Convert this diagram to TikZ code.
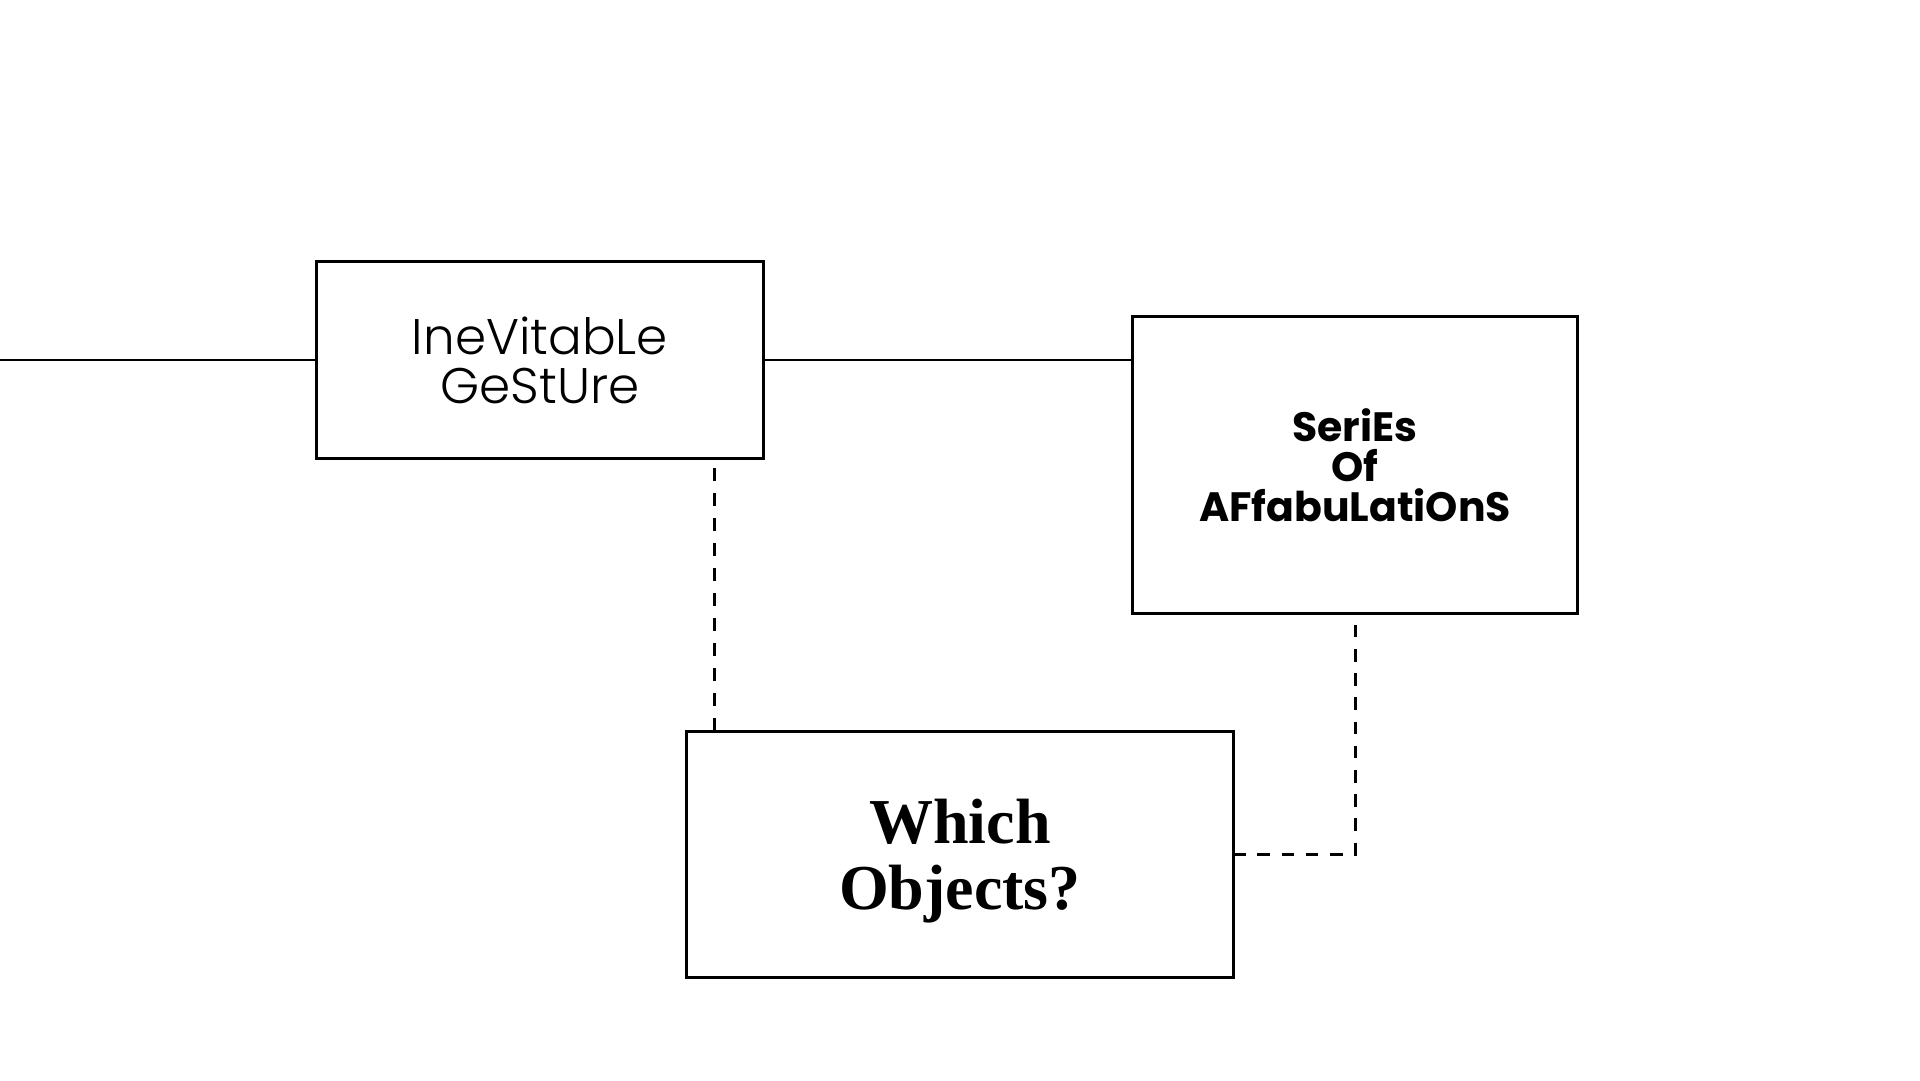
\documentclass[tikz,border=0pt]{standalone}
\usepackage{fontspec}
\IfFontExistsTF{Poppins Light}{\newfontfamily\lightsans{Poppins Light}}{%
  \IfFontExistsTF{Lato Light}{\newfontfamily\lightsans{Lato Light}}{\newfontfamily\lightsans{Liberation Sans}}}
\IfFontExistsTF{Poppins Bold}{\newfontfamily\heavysans{Poppins Bold}}{%
  \newfontfamily\heavysans{Poppins}[UprightFont=*,BoldFont=*]}
\newfontfamily\timesbold{Liberation Serif}
\begin{document}
\begin{tikzpicture}[x=1pt,y=-1pt,
  box/.style={draw=black, line width=3pt, rectangle, inner sep=0pt, outer sep=0pt, align=center, fill=white},
  solidline/.style={line width=2.5pt},
  dashline/.style={line width=3pt}]
\path[use as bounding box, fill=white] (0,0) rectangle (1920,1080);
\node[box, minimum width=447.5pt, minimum height=196.5pt,
  font={\lightsans\fontsize{50}{49}\selectfont}] (gesture) at (540,360)
  {IneVitabLe\\GeStUre};
\node[box, minimum width=445.5pt, minimum height=296.5pt,
  font={\heavysans\fontsize{41}{40}\selectfont}] (series) at (1355,465)
  {SeriEs\\Of\\AFfabuLatiOnS};
\node[box, minimum width=546.5pt, minimum height=246pt,
  font={\timesbold\bfseries\fontsize{64}{65.7}\selectfont}] (objects) at (960,854.5)
  {Which\\\smash{Objects?}};
\coordinate (leftend) at (0,360);
\coordinate (d1x) at (714,0);
\draw[solidline] (leftend) -- (gesture.west);
\draw[solidline] (gesture.east) -- (gesture.east -| series.west);
\draw[dashline, dash pattern=on 13pt off 12pt, dash phase=15pt]
  (gesture.south -| d1x) -- (objects.north -| d1x);
\draw[dashline, dash pattern=on 12.6pt off 11.6pt, dash phase=12.6pt]
  (series.south) |- (objects.east);
\end{tikzpicture}
\end{document}
